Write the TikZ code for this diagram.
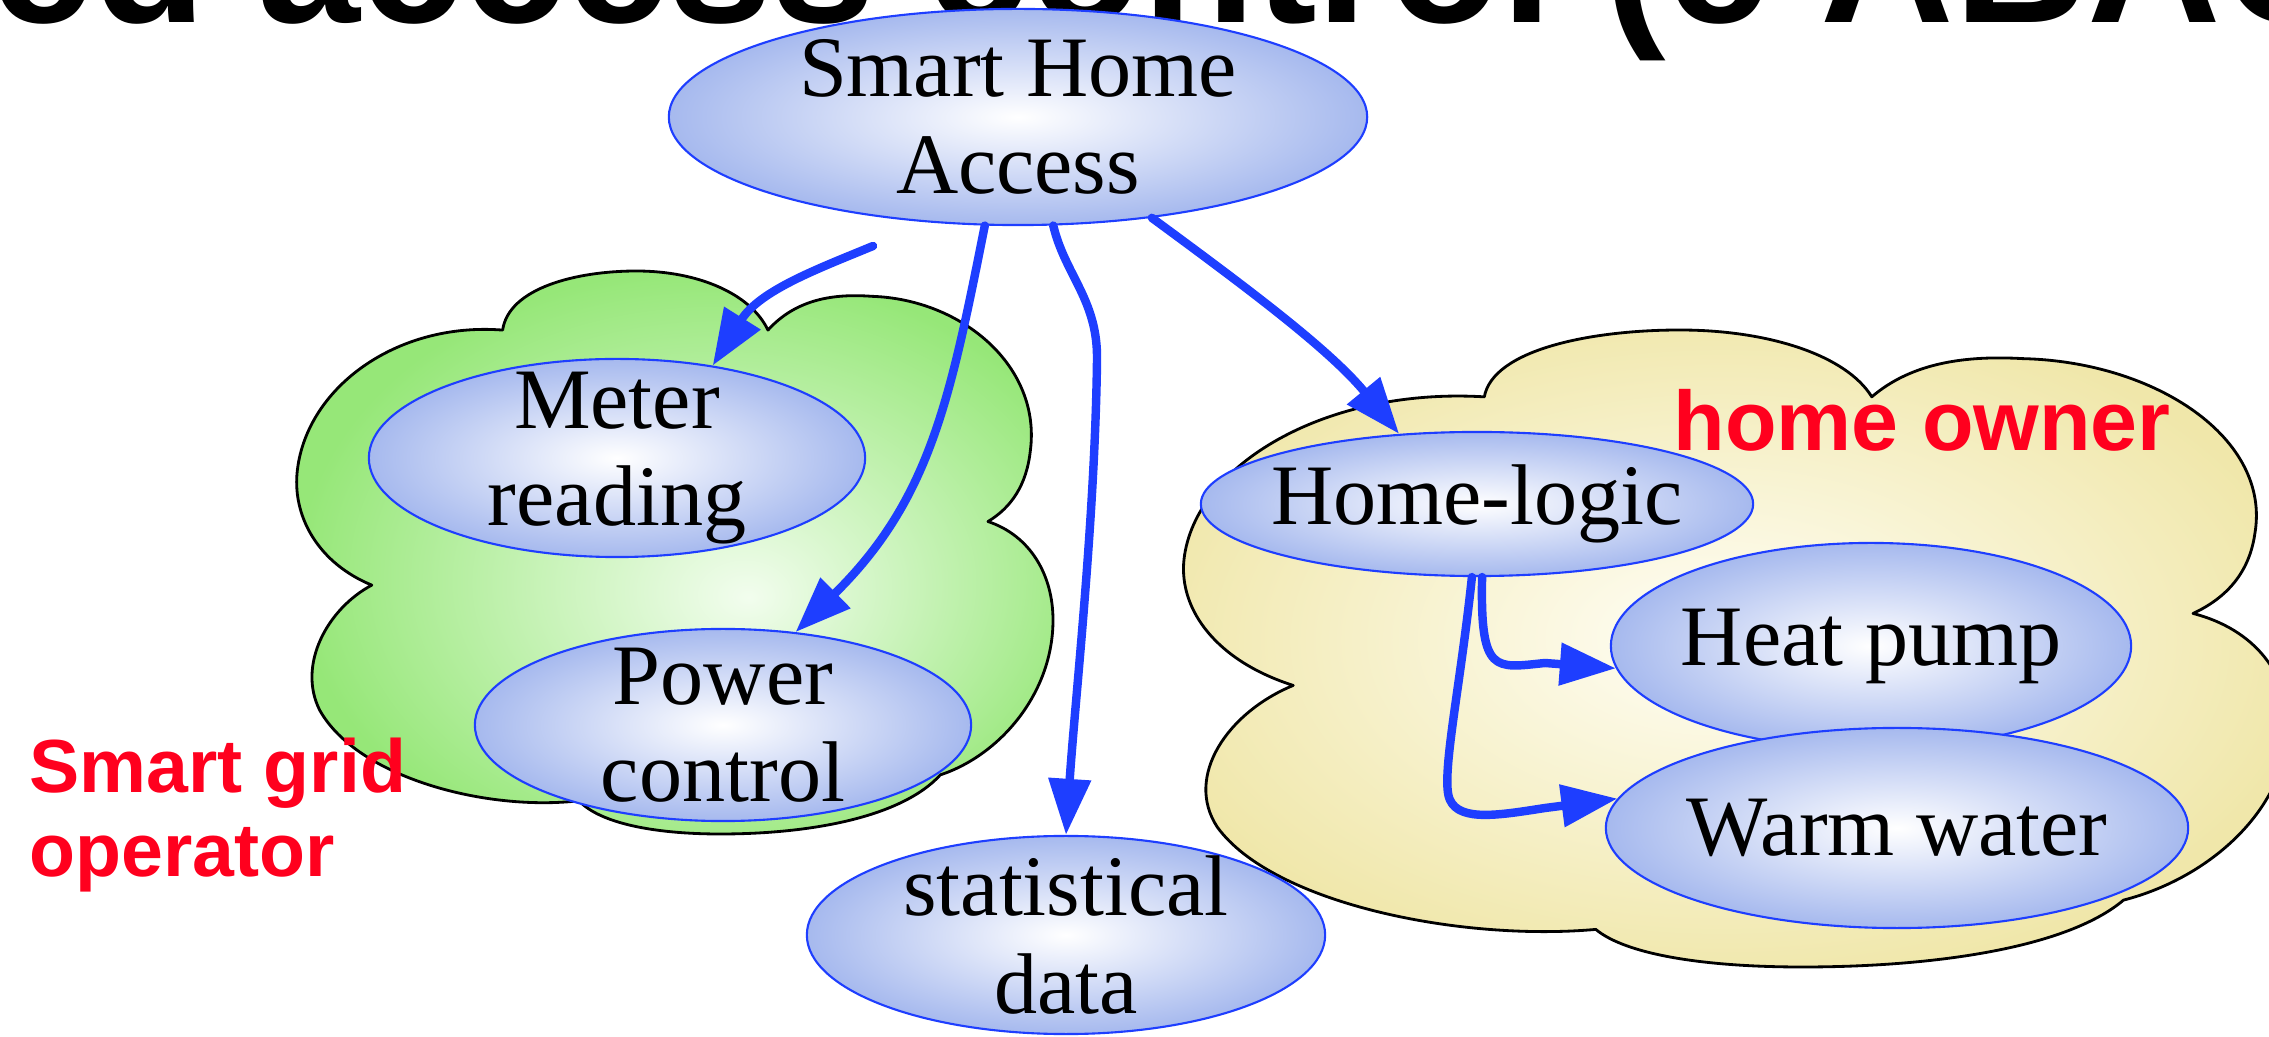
\documentclass[tikz,border=0pt]{standalone}
\usepackage{fontspec}
\setmainfont{Liberation Serif}
\newfontfamily\headfont{Liberation Sans}
\usetikzlibrary{shapes.geometric,arrows.meta}
\definecolor{flowblue}{RGB}{30,62,255}
\definecolor{bubbleout}{RGB}{166,185,238}
\definecolor{gridout}{RGB}{150,231,120}
\definecolor{gridin}{RGB}{242,253,238}
\definecolor{ownerout}{RGB}{240,231,170}
\definecolor{ownerin}{RGB}{255,254,246}
\definecolor{labelred}{RGB}{255,0,30}
\pgfdeclareradialshading{gridshade}{\pgfpoint{5bp}{-4bp}}{color(0bp)=(gridin); color(27bp)=(gridout); color(50bp)=(gridout)}
\pgfdeclareradialshading{ownershade}{\pgfpoint{-1bp}{1bp}}{color(0bp)=(ownerin); color(27bp)=(ownerout); color(50bp)=(ownerout)}
% cloud outline in the unit box, y pointing down
\def\cloudpath{(0.099,0.558)
  .. controls (0.03,0.52) and (-0.005,0.44) .. (0.0,0.36)
  .. controls (0.01,0.21) and (0.13,0.09) .. (0.272,0.105)
  .. controls (0.28,0.03) and (0.37,0.0) .. (0.449,0.0)
  .. controls (0.53,0.0) and (0.6,0.04) .. (0.623,0.105)
  .. controls (0.66,0.05) and (0.71,0.04) .. (0.76,0.045)
  .. controls (0.88,0.05) and (0.985,0.17) .. (0.97,0.32)
  .. controls (0.965,0.38) and (0.945,0.42) .. (0.914,0.445)
  .. controls (0.97,0.47) and (1.0,0.54) .. (1.0,0.62)
  .. controls (1.0,0.75) and (0.93,0.86) .. (0.851,0.895)
  .. controls (0.80,0.97) and (0.68,1.0) .. (0.56,1.0)
  .. controls (0.47,1.0) and (0.40,0.98) .. (0.373,0.941)
  .. controls (0.25,0.96) and (0.08,0.90) .. (0.03,0.78)
  .. controls (0.0,0.70) and (0.04,0.60) .. (0.099,0.558) -- cycle}
\begin{document}
\begin{tikzpicture}[x=0.01cm, y=-0.01cm, line join=round, line cap=round,
  bubble/.style={ellipse, draw=flowblue, line width=0.6pt, inner color=white, outer color=bubbleout,
    inner xsep=-0.15cm, inner ysep=-0.25cm, align=center, font=\fontsize{24.5}{27.6}\selectfont},
  cloudline/.style={draw=black, line width=0.8pt},
  flow/.style={draw=flowblue, line width=2.4pt, -{Triangle[length=0.56cm, width=0.41cm]}},
  redlabel/.style={text=labelred, inner sep=0pt}]
\useasboundingbox (0,0) rectangle (2269,1037);
\clip (0,0) rectangle (2269,1037);
\node[anchor=base west, inner sep=0pt, font=\headfont\bfseries\fontsize{52.6}{60}\selectfont] (title) at (-10,23) {ed access control (e ABAC};

\begin{scope}[shift={(297,271)}, xscale=756, yscale=563]
  \shadedraw[cloudline, shading=gridshade] \cloudpath;
\end{scope}
\begin{scope}[shift={(1184,330)}, xscale=1104, yscale=637]
  \shadedraw[cloudline, shading=ownershade] \cloudpath;
\end{scope}

\node[bubble, minimum width=6.98cm, minimum height=2.16cm] (access) at (1018,117) {Smart Home\\Access};
\node[bubble, minimum width=4.96cm, minimum height=1.98cm] (meter) at (617,458) {Meter\\reading};
\node[bubble, minimum width=4.96cm, minimum height=1.92cm] (power) at (723,725) {Power\\control};
\node[bubble, minimum width=5.18cm, minimum height=1.98cm] (stat) at (1066,935) {statistical\\data};
\node[bubble, minimum width=5.52cm, minimum height=1.44cm] (home) at (1477,504) {Home-logic};
\node[bubble, minimum width=5.2cm, minimum height=2.06cm] (heat) at (1871,646) {Heat pump};
\node[bubble, minimum width=5.82cm, minimum height=2.0cm] (warm) at (1897,828) {Warm water};

\coordinate (tap) at (873,246);
\draw[flow] (tap) .. controls (820,268) and (760,290) .. (meter.44);
\draw[flow] (access.253) .. controls (950,400) and (930,500) .. (power.52);
\draw[flow] (access.288) .. controls (1065,275) and (1098,300) .. (1097,360) .. controls (1095,520) and (1075,700) .. (stat.north);
\draw[flow] (access.323) .. controls (1250,290) and (1330,350) .. (home.138);
\draw[flow] (home.274) .. controls (1480,675) and (1495,668) .. (1545,663) -- (heat.185);
\draw[flow] (home.266) .. controls (1460,690) and (1440,780) .. (1450,800) .. controls (1460,822) and (1500,815) .. (1545,808) -- (warm.174);

\node[redlabel, anchor=base west, font=\headfont\bfseries\fontsize{24}{27}\selectfont] (owner) at (1673,451) {home owner};
\node[redlabel, anchor=north west, align=left, font=\headfont\bfseries\fontsize{21.4}{24}\selectfont] (operator) at (29,737) {Smart grid\\operator};
\end{tikzpicture}
\end{document}
